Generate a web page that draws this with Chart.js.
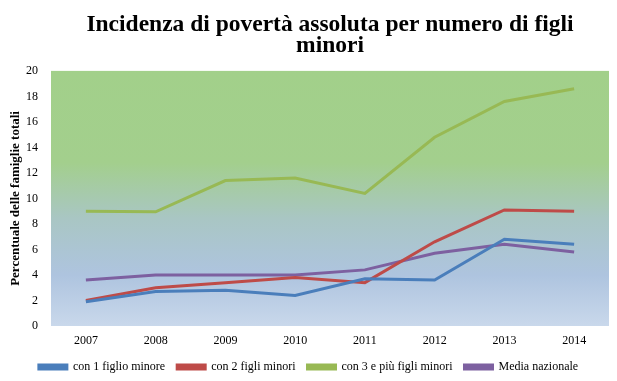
<!DOCTYPE html>
<html>
<head>
<meta charset="utf-8">
<script src="https://cdn.jsdelivr.net/npm/chart.js@4"></script>
<style>
  html, body { margin: 0; padding: 0; background: #fff; }
  #wrap { width: 617px; height: 381px; }
</style>
</head>
<body>
<div id="wrap"><canvas id="c" width="617" height="381"></canvas></div>
<script>
const categories = ['2007', '2008', '2009', '2010', '2011', '2012', '2013', '2014'];
const seriesNames = ['con 1 figlio minore', 'con 2 figli minori', 'con 3 e più figli minori', 'Media nazionale'];
const figlio1 = [1.9, 2.7, 2.8, 2.4, 3.7, 3.6, 6.8, 6.4];
const figli2 = [2.0, 3.0, 3.4, 3.8, 3.4, 6.6, 9.1, 9.0];
const figli3 = [9.0, 8.95, 11.4, 11.6, 10.4, 14.8, 17.6, 18.6];
const media = [3.6, 4.0, 4.0, 4.0, 4.4, 5.7, 6.4, 5.8];
const yTicks = [0, 2, 4, 6, 8, 10, 12, 14, 16, 18, 20];
const titleLines = ['Incidenza di povertà assoluta per numero di figli', 'minori'];
const yTitle = 'Percentuale delle famiglie totali';

const colors = ['#4A7EBB', '#BE4B48', '#98B954', '#7D60A0'];
const seriesValues = [figlio1, figli2, figli3, media];

const bgPlugin = {
  id: 'plotBg',
  beforeDraw(chart) {
    const a = chart.chartArea;
    if (!a) return;
    const ctx = chart.ctx;
    const g = ctx.createLinearGradient(0, a.top, 0, a.bottom);
    g.addColorStop(0, '#A2D08A');
    g.addColorStop(0.36, '#A3CF8D');
    g.addColorStop(0.58, '#A9C6C4');
    g.addColorStop(0.8, '#AEC4DF');
    g.addColorStop(1, '#C9D8EB');
    ctx.save();
    ctx.fillStyle = g;
    ctx.fillRect(a.left, a.top, a.right - a.left, a.bottom - a.top);
    ctx.restore();
  }
};

new Chart(document.getElementById('c'), {
  type: 'line',
  data: {
    labels: categories,
    datasets: seriesNames.map((n, i) => ({
      label: n,
      data: seriesValues[i],
      borderColor: colors[i],
      backgroundColor: colors[i],
      borderWidth: 3,
      pointRadius: 0,
      tension: 0,
      fill: false
    }))
  },
  options: {
    responsive: false,
    animation: false,
    layout: { padding: { left: 8, right: 8, top: 0, bottom: -2 } },
    plugins: {
      title: {
        display: true,
        text: titleLines,
        fullSize: false,
        color: '#000',
        font: { family: 'Liberation Serif', size: 23.5, weight: 'bold', lineHeight: 0.87 },
        padding: { top: 15, bottom: 15 }
      },
      legend: {
        position: 'bottom',
        labels: {
          boxWidth: 28,
          boxHeight: 4,
          padding: 12,
          color: '#000',
          font: { family: 'Liberation Serif', size: 12 }
        }
      },
      tooltip: { enabled: false }
    },
    scales: {
      x: {
        offset: true,
        grid: { display: false, drawTicks: false },
        border: { display: false },
        ticks: { color: '#000', padding: 8, font: { family: 'Liberation Serif', size: 12 } },
        afterFit(s) { s.height = 23; }
      },
      y: {
        min: 0,
        max: 20,
        grid: { display: false },
        border: { display: false },
        afterBuildTicks(s) { s.ticks = yTicks.map(v => ({ value: v })); },
        ticks: { color: '#000', padding: 5, font: { family: 'Liberation Serif', size: 12 } },
        title: {
          display: true,
          text: yTitle,
          color: '#000',
          font: { family: 'Liberation Serif', size: 13, weight: 'bold' },
          padding: { top: 0, bottom: 4 }
        },
        afterFit(s) { s.width = 43; }
      }
    }
  },
  plugins: [bgPlugin]
});
</script>
</body>
</html>
